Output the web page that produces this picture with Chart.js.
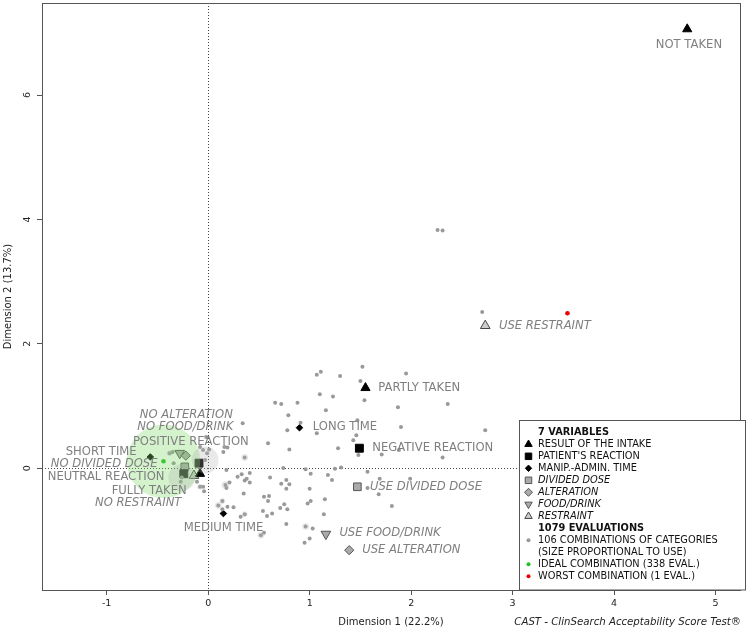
<!DOCTYPE html>
<html><head><meta charset="utf-8">
<script src="https://cdn.jsdelivr.net/npm/chart.js@4.4.1/dist/chart.umd.min.js"></script>
<style>html,body{margin:0;padding:0;background:#fff}#wrap{width:747px;height:630px;position:relative}</style>
</head><body><div id="wrap"><canvas id="c"></canvas></div>
<script>
// ---------- DATA ----------
const comboX = [1.07,1.11,1.30,0.66,0.72,0.88,1.10,1.23,1.16,0.79,0.91,0.34,0.78,1.07,0.59,0.80,1.28,1.46,1.43,1.48,0.15,0.19,0.36,1.52,1.95,1.50,1.54,1.87,2.36,1.90,2.73,1.71,1.88,2.31,1.47,
  0.74,0.96,1.25,1.31,1.57,0.18,0.33,0.41,0.29,0.38,0.36,0.21,0.41,-0.05,-0.04,0.17,0.18,0.61,1.01,1.18,1.22,0.72,0.77,0.80,0.77,1.00,0.35,0.55,0.60,0.59,1.15,0.98,1.01,0.14,0.10,0.19,0.25,0.14,0.75,0.71,0.78,0.54,0.63,0.58,0.36,0.32,1.14,0.77,0.96,1.03,0.55,0.52,1.00,0.95,
  1.69,1.99,1.57,1.68,1.81,2.26,2.31,2.70,-0.38,-0.35,-0.34,-0.27,0.01,-0.01,-0.08,-0.05,-0.02,-0.08,-0.11,0.16,-0.03,-0.26];
const comboY = [1.50,1.55,1.48,1.05,1.03,1.05,1.19,1.15,0.93,0.85,0.73,0.72,0.61,0.56,0.40,0.30,0.32,0.53,0.45,0.21,0.26,0.33,0.17,1.63,1.52,1.40,1.09,0.98,1.03,0.66,0.61,0.22,0.29,0.17,0.77,
  0.00,-0.02,-0.01,0.01,-0.06,-0.03,-0.10,-0.08,-0.14,-0.17,-0.20,-0.23,-0.23,-0.30,-0.37,-0.27,-0.32,-0.15,-0.09,-0.11,-0.19,-0.25,-0.19,-0.26,-0.33,-0.33,-0.41,-0.46,-0.45,-0.53,-0.50,-0.57,-0.53,-0.53,-0.60,-0.62,-0.63,-0.66,-0.58,-0.64,-0.66,-0.69,-0.73,-0.77,-0.74,-0.78,-0.74,-0.90,-0.94,-0.97,-1.04,-1.08,-1.13,-1.20,
  -0.17,-0.17,-0.32,-0.42,-0.61,3.83,3.82,2.51,0.24,0.26,0.08,-0.22,0.30,0.24,0.34,0.29,0.50,-0.30,-0.22,0.34,0.13,-0.15];
const comboN = [1,1,1,1,1,1,1,1,1,1,1,1,1,1,1,1,1,1,1,1,1,1,3,1,1,1,1,1,1,1,1,1,1,1,1,
  1,1,1,1,1,1,1,1,1,1,1,1,1,1,1,4,1,1,1,1,1,1,1,1,1,1,1,1,1,1,1,1,1,2,3,1,1,1,1,1,1,1,1,1,2,1,1,1,3,1,1,3,1,1,
  1,1,1,1,1,1,1,1,2,1,1,1,1,1,1,1,1,2,1,1,45,45];
const idealX = [-0.44], idealY = [0.11], idealN = [338];
const worstX = [3.54], worstY = [2.49], worstN = [1];

const variables = ['RESULT OF THE INTAKE', "PATIENT'S REACTION", 'MANIP.-ADMIN. TIME', 'DIVIDED DOSE', 'ALTERATION', 'FOOD/DRINK', 'RESTRAINT'];
const catNames = ['NOT TAKEN','PARTLY TAKEN','FULLY TAKEN','NEGATIVE REACTION','POSITIVE REACTION','NEUTRAL REACTION','LONG TIME','MEDIUM TIME','SHORT TIME','USE DIVIDED DOSE','NO DIVIDED DOSE','USE ALTERATION','NO ALTERATION','USE FOOD/DRINK','NO FOOD/DRINK','USE RESTRAINT','NO RESTRAINT'];
const catVar = [0,0,0,1,1,1,2,2,2,3,3,4,4,5,5,6,6];
const catX = [4.72,1.55,-0.08,1.49,-0.09,-0.24,0.90,0.15,-0.57,1.47,-0.23,1.39,-0.22,1.16,-0.28,2.73,-0.14];
const catY = [7.06,1.29,-0.09,0.32,0.08,-0.09,0.65,-0.73,0.18,-0.30,0.02,-1.32,0.20,-1.06,0.24,2.29,-0.12];
// label anchors (data units) and alignment
const labX = [4.737,1.676,-0.581,1.617,-0.171,-1.005,1.031,0.151,-0.704,1.594,-1.025,1.518,-0.215,1.293,-0.225,2.865,-0.689];
const labY = [6.804,1.287,-0.365,0.322,0.423,-0.145,0.660,-0.965,0.253,-0.300,0.064,-1.320,0.853,-1.040,0.664,2.284,-0.558];
const labAlign = ['center','left','center','left','center','center','left','center','right','left','center','left','center','left','center','left','center'];

const xTicks = [-1,0,1,2,3,4,5];
const yTicks = [0,2,4,6];
const xTitle = 'Dimension 1 (22.2%)';
const yTitle = 'Dimension 2 (13.7%)';
const caption = 'CAST - ClinSearch Acceptability Score Test\u00AE';
const legendLines = ['7 VARIABLES', ...variables, '1079 EVALUATIONS', '106 COMBINATIONS OF CATEGORIES', '(SIZE PROPORTIONAL TO USE)', 'IDEAL COMBINATION (338 EVAL.)', 'WORST COMBINATION (1 EVAL.)'];

// ---------- STYLES ----------
const FONT = "'DejaVu Sans', sans-serif";
const varStyle = [
  {ps:'triangle', r:5.3, rot:0,   bg:'#000', bd:'#000', lr:4.3},
  {ps:'rect',     r:5.6, rot:0,   bg:'#000', bd:'#000', lr:4.6},
  {ps:'rectRot',  r:3.3, rot:0,   bg:'#000', bd:'#000', lr:3.2},
  {ps:'rect',     r:5.4, rot:0,   bg:'#aaa', bd:'#555', lr:4.6},
  {ps:'rectRot',  r:4.6, rot:0,   bg:'#aaa', bd:'#555', lr:4.0},
  {ps:'triangle', r:5.6, rot:180, bg:'#aaa', bd:'#555', lr:4.3},
  {ps:'triangle', r:5.6, rot:0,   bg:'#ccc', bd:'#444', lr:4.3}
];
const radiusOf = n => 2 * Math.sqrt(n);

const pts = (xs, ys) => xs.map((x,i)=>({x, y: ys[i]}));

const datasets = [];
// halos
datasets.push({data: pts(comboX, comboY), pointRadius: comboN.map(n=> n>1 ? radiusOf(n) : 0), backgroundColor:'rgba(175,175,175,0.27)', borderWidth:0, pointHoverRadius:0});
datasets.push({data: pts(idealX, idealY), pointRadius: idealN.map(radiusOf), backgroundColor:'rgba(120,215,95,0.32)', borderWidth:0});
// dots
datasets.push({data: pts(comboX, comboY), pointRadius: 2, backgroundColor:'#999', borderWidth:0});
datasets.push({data: pts(idealX, idealY), pointRadius: 2.3, backgroundColor:'#1fbf1f', borderWidth:0});
datasets.push({data: pts(worstX, worstY), pointRadius: 2.3, backgroundColor:'#e00', borderWidth:0});
// category markers by variable
variables.forEach((v, vi) => {
  const idx = catVar.map((c,i)=>c===vi?i:-1).filter(i=>i>=0);
  const s = varStyle[vi];
  datasets.push({data: idx.map(i=>({x:catX[i], y:catY[i]})), pointStyle:s.ps, rotation:s.rot, pointRadius:s.r, backgroundColor:s.bg, borderColor:s.bd, borderWidth:1});
});

// ---------- PLUGIN ----------
const deco = {
  id:'deco',
  beforeDatasetsDraw(chart){
    const {ctx, chartArea:a, scales:{x, y}} = chart;
    ctx.save();
    ctx.strokeStyle = '#444'; ctx.lineWidth = 1; ctx.setLineDash([1,2]);
    const px = Math.round(x.getPixelForValue(0)) + 0.5, py = Math.round(y.getPixelForValue(0)) + 0.5;
    ctx.beginPath(); ctx.moveTo(px, a.top); ctx.lineTo(px, a.bottom); ctx.stroke();
    ctx.beginPath(); ctx.moveTo(a.left, py); ctx.lineTo(a.right, py); ctx.stroke();
    ctx.restore();
  },
  afterDatasetsDraw(chart){
    const {ctx, chartArea:a, scales:{x, y}} = chart;
    ctx.save();
    // labels
    ctx.fillStyle = '#7f7f7f'; ctx.textBaseline = 'middle';
    catNames.forEach((t,i)=>{
      const it = catVar[i] >= 3;
      ctx.font = (it?'italic ':'') + '11.6px ' + FONT;
      ctx.textAlign = labAlign[i];
      ctx.fillText(t, x.getPixelForValue(labX[i]), y.getPixelForValue(labY[i]));
    });
    // frame
    ctx.strokeStyle = '#555'; ctx.lineWidth = 1;
    ctx.strokeRect(Math.round(a.left)+0.5, Math.round(a.top)+0.5, Math.round(a.right-a.left), Math.round(a.bottom-a.top));
    // legend box
    const L = 519.5, T = 420.5, R = 745.5;
    ctx.fillStyle = '#fff'; ctx.fillRect(L, T, R-L, a.bottom - T);
    ctx.strokeRect(L, T, R-L, a.bottom - T);
    const tx = 538, sx = 528.5; let ly = 432.3; const dy = 12;
    ctx.textAlign = 'left'; ctx.textBaseline = 'middle';
    legendLines.forEach((t, i) => {
      const bold = (i===0 || i===8);
      const it = (i>=4 && i<=7);
      ctx.font = (it?'italic ':'') + (bold?'bold ':'') + '9.8px ' + FONT;
      ctx.fillStyle = '#111';
      ctx.fillText(t, tx, ly);
      if (i>=1 && i<=7) {
        const s = varStyle[i-1];
        ctx.fillStyle = s.bg; ctx.strokeStyle = s.bd; ctx.lineWidth = 1;
        Chart.helpers.drawPoint(ctx, {pointStyle:s.ps, radius:s.lr, rotation:s.rot, borderWidth:1}, sx, ly);
      } else if (i===9) {
        ctx.fillStyle = '#999'; ctx.beginPath(); ctx.arc(sx, ly, 2, 0, 2*Math.PI); ctx.fill();
      } else if (i===11) {
        ctx.fillStyle = '#1fbf1f'; ctx.beginPath(); ctx.arc(sx, ly, 2, 0, 2*Math.PI); ctx.fill();
      } else if (i===12) {
        ctx.fillStyle = '#e00'; ctx.beginPath(); ctx.arc(sx, ly, 2, 0, 2*Math.PI); ctx.fill();
      }
      ly += dy;
    });
    ctx.restore();
  },
  afterDraw(chart){
    const {ctx, chartArea:a, scales:{x, y}} = chart;
    ctx.save();
    ctx.fillStyle = '#222'; ctx.font = '9.5px ' + FONT; ctx.textAlign='center'; ctx.textBaseline='middle';
    yTicks.forEach(v=>{
      ctx.save(); ctx.translate(28, y.getPixelForValue(v)); ctx.rotate(-Math.PI/2); ctx.fillText(String(v), 0, 0); ctx.restore();
    });
    ctx.font = '10px ' + FONT;
    ctx.fillText(xTitle, (a.left+a.right)/2, 622);
    ctx.save(); ctx.translate(8, (a.top+a.bottom)/2); ctx.rotate(-Math.PI/2); ctx.fillText(yTitle, 0, 0); ctx.restore();
    ctx.font = 'italic 10.2px ' + FONT; ctx.textAlign='right';
    ctx.fillText(caption, 741, 622);
    ctx.restore();
  }
};

new Chart(document.getElementById('c'), {
  type:'scatter',
  data:{datasets},
  options:{
    responsive:true, maintainAspectRatio:false, animation:false,
    events:[],
    layout:{autoPadding:false, padding:{top:3, right:7, left:0, bottom:0}},
    plugins:{legend:{display:false}, tooltip:{enabled:false}},
    scales:{
      x:{type:'linear', min:-1.637, max:5.24,
        afterBuildTicks: s => { s.ticks = xTicks.map(v=>({value:v})); },
        afterFit: s => { s.height = 40; },
        grid:{display:true, drawOnChartArea:false, drawTicks:true, tickLength:5, color:'#555'},
        border:{display:false},
        ticks:{font:{family:FONT, size:9.5}, color:'#222', padding:3, maxRotation:0, autoSkip:false}
      },
      y:{type:'linear', min:-1.96, max:7.48,
        afterBuildTicks: s => { s.ticks = yTicks.map(v=>({value:v})); },
        afterFit: s => { s.width = 42; },
        grid:{display:true, drawOnChartArea:false, drawTicks:true, tickLength:5, color:'#555'},
        border:{display:false},
        ticks:{display:false}
      }
    }
  },
  plugins:[deco]
});
</script></body></html>
